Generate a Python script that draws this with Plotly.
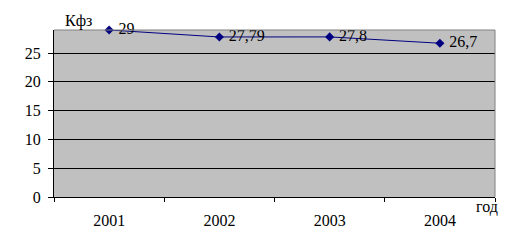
import plotly.graph_objects as go

years = ["2001", "2002", "2003", "2004"]
values = [29, 27.79, 27.8, 26.7]
labels = [" " + str(v).replace(".", ",") for v in values]
y_title = "Кфз"
x_title = "год"

W, H = 511, 242
L, R, T, B = 54, 16, 30, 45
FONT = "Liberation Serif"

fig = go.Figure()
fig.add_trace(go.Scatter(
    x=years, y=values, mode="lines+markers+text",
    text=labels, textposition="middle right",
    textfont=dict(family=FONT, size=16, color="black"),
    line=dict(color="#000080", width=1),
    marker=dict(symbol="diamond", size=7, color="#000080"),
    cliponaxis=False, showlegend=False,
))

fig.update_layout(
    width=W, height=H,
    margin=dict(l=L, r=R, t=T, b=B, pad=0),
    paper_bgcolor="white", plot_bgcolor="#C0C0C0",
    font=dict(family=FONT, size=16, color="black"),
    xaxis=dict(
        type="category", range=[-0.5, 3.5], tickson="boundaries",
        ticks="outside", ticklen=4, tickcolor="black", tickwidth=1,
        ticklabelstandoff=9,
        showline=True, linecolor="black", linewidth=1,
        showgrid=False, zeroline=False,
        tickfont=dict(family=FONT, size=16, color="black"),
    ),
    yaxis=dict(
        range=[0, 29], dtick=5, tick0=0,
        ticks="outside", ticklen=5, tickcolor="black", tickwidth=1,
        ticklabelstandoff=4,
        showline=True, linecolor="black", linewidth=1,
        showgrid=True, gridcolor="black", gridwidth=1,
        zeroline=False,
        tickfont=dict(family=FONT, size=16, color="black"),
    ),
    shapes=[
        dict(type="line", xref="paper", yref="paper", x0=0, x1=1, y0=1, y1=1,
             line=dict(color="#808080", width=1)),
        dict(type="line", xref="paper", yref="paper", x0=1, x1=1, y0=0, y1=1,
             line=dict(color="#808080", width=1)),
    ],
    annotations=[
        dict(text=y_title, xref="paper", yref="paper", x=(63 - L) / (W - L - R),
             y=1 + 9 / (H - T - B), xanchor="left", yanchor="middle",
             showarrow=False, font=dict(family=FONT, size=16, color="black")),
        dict(text=x_title, xref="paper", yref="paper", x=1 + 5 / (W - L - R),
             y=-10 / (H - T - B), xanchor="right", yanchor="middle",
             showarrow=False, font=dict(family=FONT, size=16, color="black")),
    ],
)

fig.write_html("out.html")
